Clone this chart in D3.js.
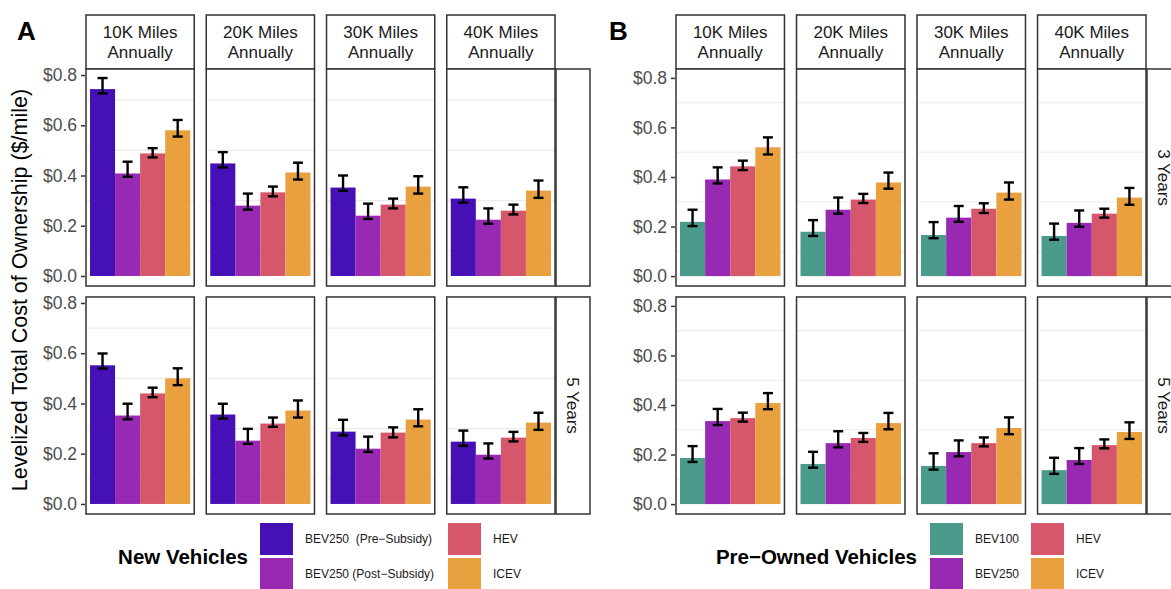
<!DOCTYPE html>
<html>
<head>
<meta charset="utf-8">
<script src="https://cdn.jsdelivr.net/npm/d3@7"></script>
<style>
  body { margin: 0; background: #fff; }
  text { font-family: "Liberation Sans", Arial, sans-serif; }
</style>
</head>
<body>
<svg width="1171" height="589"></svg>
<script>
// facets
var miles = ["10K", "20K", "30K", "40K"];
var years = ["3 Years", "5 Years"];

// series
var newTypes = ["BEV250  (Pre\u2212Subsidy)", "BEV250 (Post\u2212Subsidy)", "HEV", "ICEV"];
var usedTypes = ["BEV100", "BEV250", "HEV", "ICEV"];
var newColors = ["#4510b5", "#9729b3", "#d6576b", "#e9a03f"];
var usedColors = ["#4a9b8c", "#9729b3", "#d6576b", "#e9a03f"];

// new vehicles, rows = miles, cols = type
var newMean3 = [[0.744, 0.408, 0.488, 0.580], [0.448, 0.280, 0.333, 0.412], [0.352, 0.240, 0.284, 0.356], [0.308, 0.224, 0.260, 0.340]];
var newLow3  = [[0.727, 0.395, 0.472, 0.555], [0.432, 0.264, 0.317, 0.384], [0.339, 0.227, 0.269, 0.328], [0.292, 0.208, 0.245, 0.311]];
var newHigh3 = [[0.788, 0.455, 0.509, 0.621], [0.493, 0.328, 0.356, 0.451], [0.400, 0.288, 0.308, 0.397], [0.353, 0.269, 0.284, 0.380]];
var newMean5 = [[0.552, 0.352, 0.440, 0.500], [0.356, 0.252, 0.320, 0.372], [0.288, 0.220, 0.284, 0.336], [0.248, 0.196, 0.264, 0.324]];
var newLow5  = [[0.539, 0.337, 0.425, 0.473], [0.340, 0.239, 0.307, 0.344], [0.273, 0.207, 0.265, 0.309], [0.231, 0.181, 0.249, 0.295]];
var newHigh5 = [[0.599, 0.399, 0.463, 0.540], [0.399, 0.299, 0.344, 0.412], [0.335, 0.268, 0.305, 0.377], [0.292, 0.241, 0.287, 0.363]];

// pre-owned vehicles
var usedMean3 = [[0.219, 0.390, 0.443, 0.520], [0.179, 0.268, 0.309, 0.378], [0.166, 0.236, 0.272, 0.337], [0.162, 0.215, 0.252, 0.317]];
var usedLow3  = [[0.202, 0.374, 0.428, 0.491], [0.162, 0.252, 0.295, 0.353], [0.153, 0.219, 0.255, 0.309], [0.147, 0.199, 0.236, 0.288]];
var usedHigh3 = [[0.268, 0.439, 0.466, 0.560], [0.226, 0.317, 0.332, 0.418], [0.218, 0.283, 0.294, 0.378], [0.212, 0.265, 0.272, 0.356]];
var usedMean5 = [[0.186, 0.335, 0.347, 0.408], [0.162, 0.246, 0.267, 0.327], [0.154, 0.210, 0.246, 0.307], [0.137, 0.178, 0.238, 0.291]];
var usedLow5  = [[0.170, 0.319, 0.333, 0.383], [0.147, 0.229, 0.251, 0.302], [0.139, 0.193, 0.233, 0.282], [0.122, 0.162, 0.225, 0.263]];
var usedHigh5 = [[0.234, 0.384, 0.369, 0.448], [0.211, 0.294, 0.287, 0.368], [0.205, 0.257, 0.269, 0.350], [0.187, 0.226, 0.261, 0.330]];

var yTicks = [0, 0.2, 0.4, 0.6, 0.8];
var yMinor = [0.1, 0.3, 0.5, 0.7];

var svg = d3.select('svg');

var rowScale = d3.scaleBand()
    .domain(years)
    .range([69, 514])
    .paddingInner(0.048);

function drawGroup(o) {
  var g = svg.append('g');
  var col = d3.scaleBand()
      .domain(miles)
      .range([o.left, o.right])
      .paddingInner(0.1);

  // strips on top
  miles.forEach(function(m) {
    var x0 = col(m);
    g.append('rect')
      .attr('x', x0).attr('y', 15)
      .attr('width', col.bandwidth()).attr('height', 54)
      .attr('fill', '#fff').attr('stroke', '#333').attr('stroke-width', 1.5);
    g.append('text')
      .attr('x', x0 + col.bandwidth() / 2).attr('y', 38)
      .attr('text-anchor', 'middle')
      .attr('font-size', 17).attr('fill', '#1a1a1a')
      .text(m + ' Miles');
    g.append('text')
      .attr('x', x0 + col.bandwidth() / 2).attr('y', 58)
      .attr('text-anchor', 'middle')
      .attr('font-size', 17).attr('fill', '#1a1a1a')
      .text('Annually');
  });

  years.forEach(function(yr, ri) {
    var top = rowScale(yr), bot = top + rowScale.bandwidth();
    var y = d3.scaleLinear().domain(o.yDomain).range([bot, top]);
    var mean = o.mean[ri], low = o.low[ri], high = o.high[ri];

    // right strip
    g.append('rect')
      .attr('x', o.right + 1).attr('y', top)
      .attr('width', 34).attr('height', rowScale.bandwidth())
      .attr('fill', '#fff').attr('stroke', '#333').attr('stroke-width', 1.5);
    if (o.rowLabels[ri]) {
      g.append('text')
        .attr('transform', 'translate(' + (o.right + 12) + ',' + (top + rowScale.bandwidth() / 2) + ') rotate(90)')
        .attr('text-anchor', 'middle')
        .attr('font-size', 17).attr('fill', '#1a1a1a')
        .text(o.rowLabels[ri]);
    }

    // y axis
    g.append('g')
      .attr('transform', 'translate(' + (o.left - 1) + ',0)')
      .call(d3.axisLeft(y).tickValues(yTicks).tickSize(4).tickPadding(4).tickFormat(d3.format('$.1f')))
      .call(function(a) {
        a.select('.domain').remove();
        a.selectAll('line').attr('stroke', '#333').attr('stroke-width', 1.5);
        a.selectAll('text').attr('font-size', 17.5).attr('fill', '#4d4d4d')
          .attr('font-family', '"Liberation Sans", Arial, sans-serif');
      });

    miles.forEach(function(m, mi) {
      var x0 = col(m), w = col.bandwidth();
      var p = g.append('g');
      p.append('rect')
        .attr('x', x0).attr('y', top).attr('width', w).attr('height', rowScale.bandwidth())
        .attr('fill', '#fff');
      p.selectAll('line.grid')
        .data(yMinor)
        .enter()
        .append('line')
        .attr('class', 'grid')
        .attr('x1', x0).attr('x2', x0 + w)
        .attr('y1', function(d) { return y(d); })
        .attr('y2', function(d) { return y(d); })
        .attr('stroke', '#ebebeb').attr('stroke-width', 1.1);

      var x = d3.scaleBand().domain(o.types).range([x0 + 4, x0 + w - 4]);

      p.selectAll('rect.bar')
        .data(o.types)
        .enter()
        .append('rect')
        .attr('class', 'bar')
        .attr('x', function(d) { return x(d); })
        .attr('width', x.bandwidth())
        .attr('y', function(d, i) { return y(mean[mi][i]); })
        .attr('height', function(d, i) { return y(0) - y(mean[mi][i]); })
        .attr('fill', function(d, i) { return o.colors[i]; });

      var eb = p.selectAll('g.err')
        .data(o.types)
        .enter()
        .append('g')
        .attr('class', 'err')
        .attr('stroke', '#000').attr('stroke-width', 2.4);
      eb.append('line')
        .attr('x1', function(d) { return x(d) + x.bandwidth() / 2; })
        .attr('x2', function(d) { return x(d) + x.bandwidth() / 2; })
        .attr('y1', function(d, i) { return y(low[mi][i]); })
        .attr('y2', function(d, i) { return y(high[mi][i]); });
      [low, high].forEach(function(arr) {
        eb.append('line')
          .attr('x1', function(d) { return x(d) + x.bandwidth() / 2 - 5; })
          .attr('x2', function(d) { return x(d) + x.bandwidth() / 2 + 5; })
          .attr('y1', function(d, i) { return y(arr[mi][i]); })
          .attr('y2', function(d, i) { return y(arr[mi][i]); });
      });

      p.append('rect')
        .attr('x', x0).attr('y', top).attr('width', w).attr('height', rowScale.bandwidth())
        .attr('fill', 'none').attr('stroke', '#333').attr('stroke-width', 1.5);
    });
  });

  // panel tag
  svg.append('text')
    .attr('x', o.tagX).attr('y', 40)
    .attr('font-size', 26).attr('font-weight', 'bold').attr('fill', '#000')
    .text(o.tag);

  // legend
  var lg = svg.append('g');
  lg.append('text')
    .attr('x', o.legTitleX).attr('y', 564)
    .attr('text-anchor', 'end')
    .attr('font-size', 20.5).attr('font-weight', 'bold').attr('fill', '#000')
    .text(o.legTitle);
  var keys = lg.selectAll('g.key')
    .data(o.types)
    .enter()
    .append('g')
    .attr('class', 'key')
    .attr('transform', function(d, i) {
      return 'translate(' + o.legCols[Math.floor(i / 2)] + ',' + (523 + (i % 2) * 35) + ')';
    });
  keys.append('rect')
    .attr('width', 33).attr('height', 32)
    .attr('fill', function(d, i) { return o.colors[i]; });
  keys.append('text')
    .attr('x', 45).attr('y', 20)
    .attr('font-size', 12).attr('fill', '#1a1a1a')
    .style('white-space', 'pre')
    .text(function(d) { return d; });
}

drawGroup({
  left: 86, right: 555,
  yDomain: [-0.04, 0.824],
  types: newTypes, colors: newColors,
  mean: [newMean3, newMean5], low: [newLow3, newLow5], high: [newHigh3, newHigh5],
  rowLabels: ["", "5 Years"],
  tag: "A", tagX: 17,
  legTitle: "New Vehicles", legTitleX: 248, legCols: [260, 448]
});

drawGroup({
  left: 676, right: 1146,
  yDomain: [-0.04, 0.836],
  types: usedTypes, colors: usedColors,
  mean: [usedMean3, usedMean5], low: [usedLow3, usedLow5], high: [usedHigh3, usedHigh5],
  rowLabels: ["3 Years", "5 Years"],
  tag: "B", tagX: 609,
  legTitle: "Pre\u2212Owned Vehicles", legTitleX: 917, legCols: [930, 1031]
});

// y axis title
svg.append('text')
  .attr('transform', 'translate(27,290) rotate(-90)')
  .attr('text-anchor', 'middle')
  .attr('font-size', 21.5).attr('fill', '#000')
  .text('Levelized Total Cost of Ownership ($/mile)');
</script>
</body>
</html>
